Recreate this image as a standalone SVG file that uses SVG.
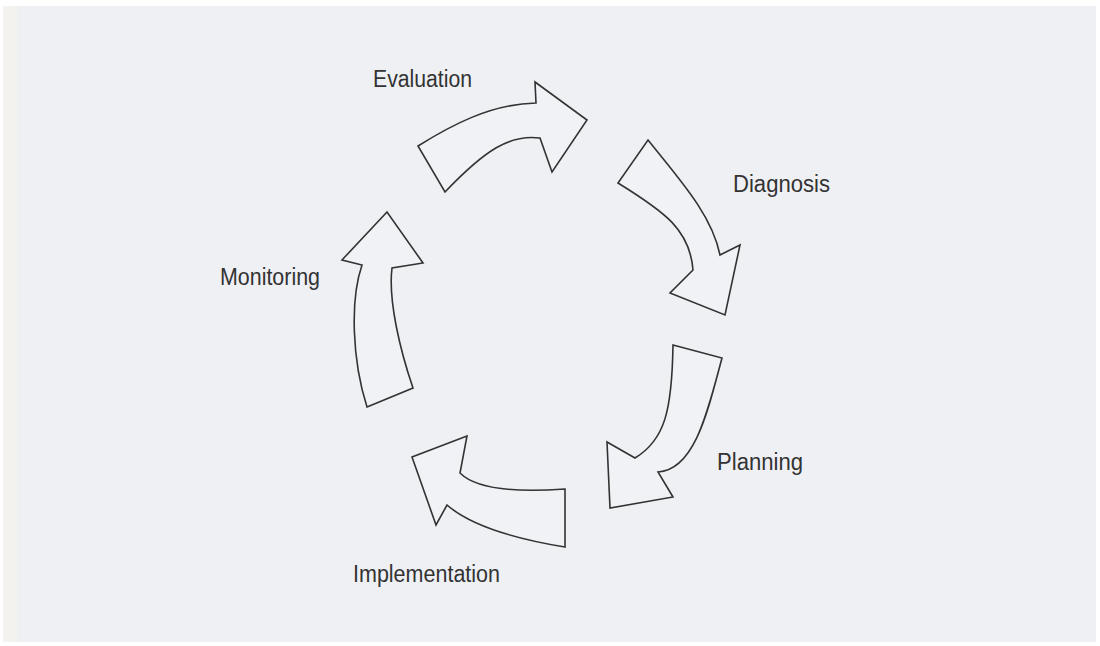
<svg xmlns="http://www.w3.org/2000/svg" width="1100" height="646" viewBox="0 0 1100 646">
<style>
.arrow{fill:#f1f2f6;stroke:#333;stroke-width:1.6;stroke-linejoin:miter}
.lbl{font-family:"Liberation Sans",Arial,sans-serif;font-size:23px;fill:#333}
</style>
<rect x="0" y="0" width="1100" height="646" fill="#ffffff"/>
<rect x="3" y="6" width="14" height="636" fill="#f3f2ee"/>
<rect x="17" y="6" width="1079" height="636" fill="#eff0f4"/>
<g id="connectors">
<g id="arrow-evaluation"><path class="arrow" d="M418,146 C450,126 490,104 536,103 L535,82 L587,120 L552,172 L540,138 C510,134 485,150 445,192 Z"/></g>
<g id="arrow-diagnosis"><path class="arrow" d="M648,140 C680,180 712,215 720,255 L740,245 L725,315 L670,293 L693,270 C690,230 665,212 618,183 Z"/></g>
<g id="arrow-planning"><path class="arrow" d="M673,345 L722,358 C708,410 695,470 658,472 L673,497 L610,508 L607,442 L635,458 C665,440 672,410 673,345 Z"/></g>
<g id="arrow-implementation"><path class="arrow" d="M565,489 L565,547 C510,538 470,525 447,505 L436,525 L412,457 L467,436 L460,473 C475,488 510,493 565,489 Z"/></g>
<g id="arrow-monitoring"><path class="arrow" d="M367,407 L413,388 C400,350 388,300 392,268 L423,263 L387,212 L342,260 L362,265 C350,300 352,360 367,407 Z"/></g>
</g>
<g id="node-evaluation"><text class="lbl" x="373" y="87" textLength="99" lengthAdjust="spacingAndGlyphs">Evaluation</text></g>
<g id="node-diagnosis"><text class="lbl" x="733" y="192" textLength="97" lengthAdjust="spacingAndGlyphs">Diagnosis</text></g>
<g id="node-planning"><text class="lbl" x="717" y="470" textLength="86" lengthAdjust="spacingAndGlyphs">Planning</text></g>
<g id="node-implementation"><text class="lbl" x="353" y="582" textLength="147" lengthAdjust="spacingAndGlyphs">Implementation</text></g>
<g id="node-monitoring"><text class="lbl" x="220" y="285" textLength="100" lengthAdjust="spacingAndGlyphs">Monitoring</text></g>
</svg>
